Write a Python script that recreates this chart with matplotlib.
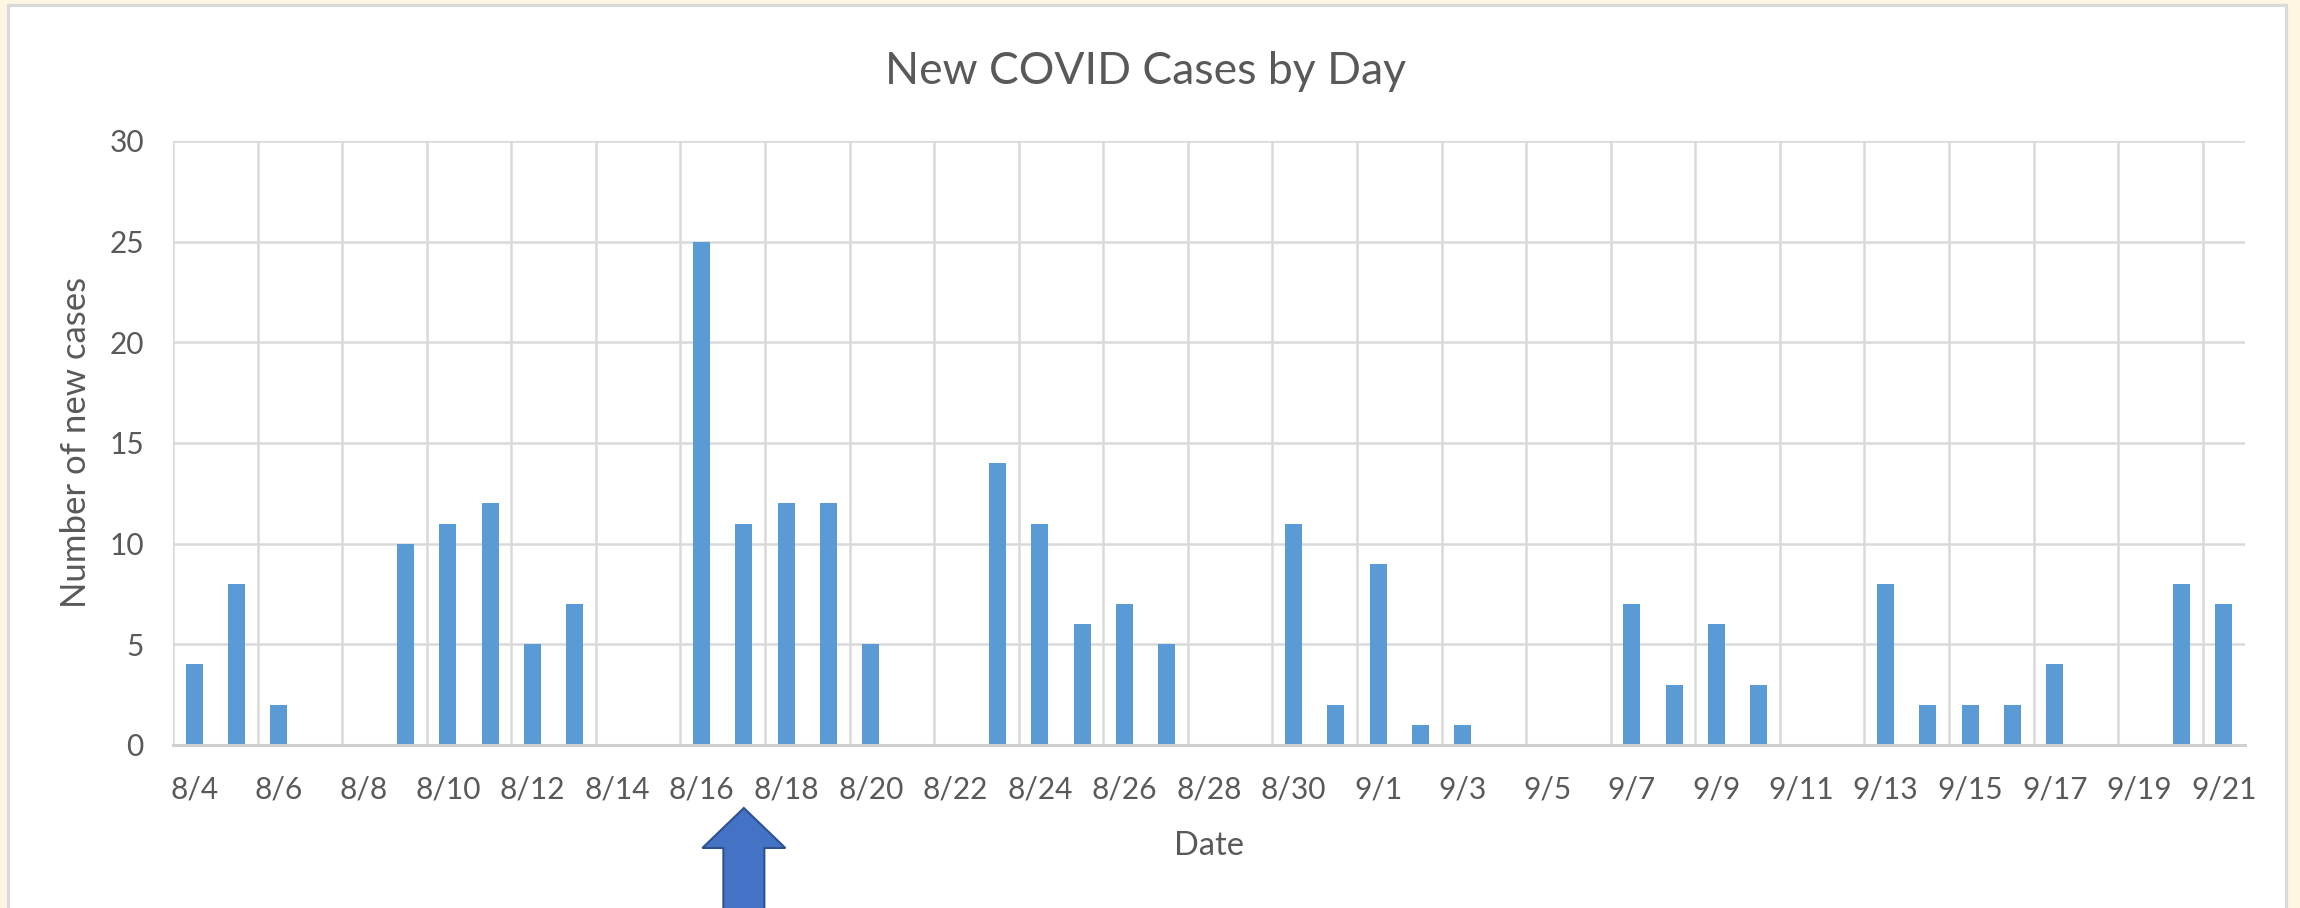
import numpy as np
import matplotlib
matplotlib.use("Agg")
import matplotlib.pyplot as plt
from matplotlib.patches import Rectangle, Polygon

# ---- data ----
dates = ["8/4", "8/5", "8/6", "8/7", "8/8", "8/9", "8/10", "8/11", "8/12", "8/13",
         "8/14", "8/15", "8/16", "8/17", "8/18", "8/19", "8/20", "8/21", "8/22", "8/23",
         "8/24", "8/25", "8/26", "8/27", "8/28", "8/29", "8/30", "8/31", "9/1", "9/2",
         "9/3", "9/4", "9/5", "9/6", "9/7", "9/8", "9/9", "9/10", "9/11", "9/12",
         "9/13", "9/14", "9/15", "9/16", "9/17", "9/18", "9/19", "9/20", "9/21"]
new_cases = [4, 8, 2, 0, 0, 10, 11, 12, 5, 7,
             0, 0, 25, 11, 12, 12, 5, 0, 0, 14,
             11, 6, 7, 5, 0, 0, 11, 2, 9, 1,
             1, 0, 0, 0, 7, 3, 6, 3, 0, 0,
             8, 2, 2, 2, 4, 0, 0, 8, 7]
y_ticks = [0, 5, 10, 15, 20, 25, 30]
title = "New COVID Cases by Day"
x_title = "Date"
y_title = "Number of new cases"
arrow_date = "8/17"

FONT = "Lato"
TXT = "#595959"
GRID = "#D9D9D9"
BAR = "#5B9BD5"

W, H = 2300, 908
fig = plt.figure(figsize=(W / 100, H / 100), dpi=100, facecolor="#FEF5E2")

# chart area (white with gray border)
fig.patches.append(Rectangle((7.5 / W, -0.02), (2285.5 - 7.5) / W, (H - 4.5) / H + 0.02,
                             transform=fig.transFigure, facecolor="white",
                             edgecolor=GRID, linewidth=2.3, zorder=-5))

ax = fig.add_axes([173 / W, (H - 745) / H, (2245 - 173) / W, (745 - 141) / H])
ax.set_facecolor("white")
x = np.arange(len(dates))
ax.bar(x, new_cases, width=0.4, color=BAR, zorder=3)

ax.set_xlim(-0.5, len(dates) - 0.5)
ax.set_ylim(y_ticks[0], y_ticks[-1])
ax.set_yticks(y_ticks)
ax.set_xticks(x[::2])
ax.set_xticklabels(dates[::2])
ax.set_xticks(np.arange(-0.5, len(dates) - 1, 2), minor=True)

ax.grid(axis="y", which="major", color=GRID, linewidth=1.8, zorder=0)
ax.grid(axis="x", which="minor", color=GRID, linewidth=1.8, zorder=0)
ax.set_axisbelow(True)
for s in ["top", "right", "left"]:
    ax.spines[s].set_visible(False)
ax.spines["bottom"].set_color("#D0D0D0")
ax.spines["bottom"].set_linewidth(2.2)
ax.spines["bottom"].set_zorder(4)

ax.tick_params(axis="both", which="both", length=0)
ax.tick_params(axis="x", pad=22, labelsize=21.5, labelcolor=TXT)
ax.tick_params(axis="y", pad=21, labelsize=21.5, labelcolor=TXT)
for lab in ax.get_xticklabels() + ax.get_yticklabels():
    lab.set_fontfamily(FONT)

fig.text(1146 / W, 1 - 84 / H, title, ha="center", va="baseline",
         fontsize=32, color=TXT, family=FONT)
fig.text(1209 / W, 1 - 855 / H, x_title, ha="center", va="baseline",
         fontsize=23.5, color=TXT, family=FONT)
fig.text(76 / W, 1 - 442 / H, y_title, ha="center", va="center", rotation=90,
         fontsize=25, color=TXT, family=FONT)

# arrow pointing at the chosen date
fig.canvas.draw()
cx = ax.transData.transform((dates.index(arrow_date), 0))[0]
tip_y = H - 808
head_y = H - 848
pts = [(cx, tip_y), (cx + 41.5, head_y), (cx + 20.5, head_y), (cx + 20.5, -10),
       (cx - 20.5, -10), (cx - 20.5, head_y), (cx - 41.5, head_y)]
fig.patches.append(Polygon(pts, closed=True, transform=None, facecolor="#4472C4",
                           edgecolor="#2F528F", linewidth=1.5, zorder=5))

fig.savefig("out.png", dpi=100, facecolor=fig.get_facecolor())
